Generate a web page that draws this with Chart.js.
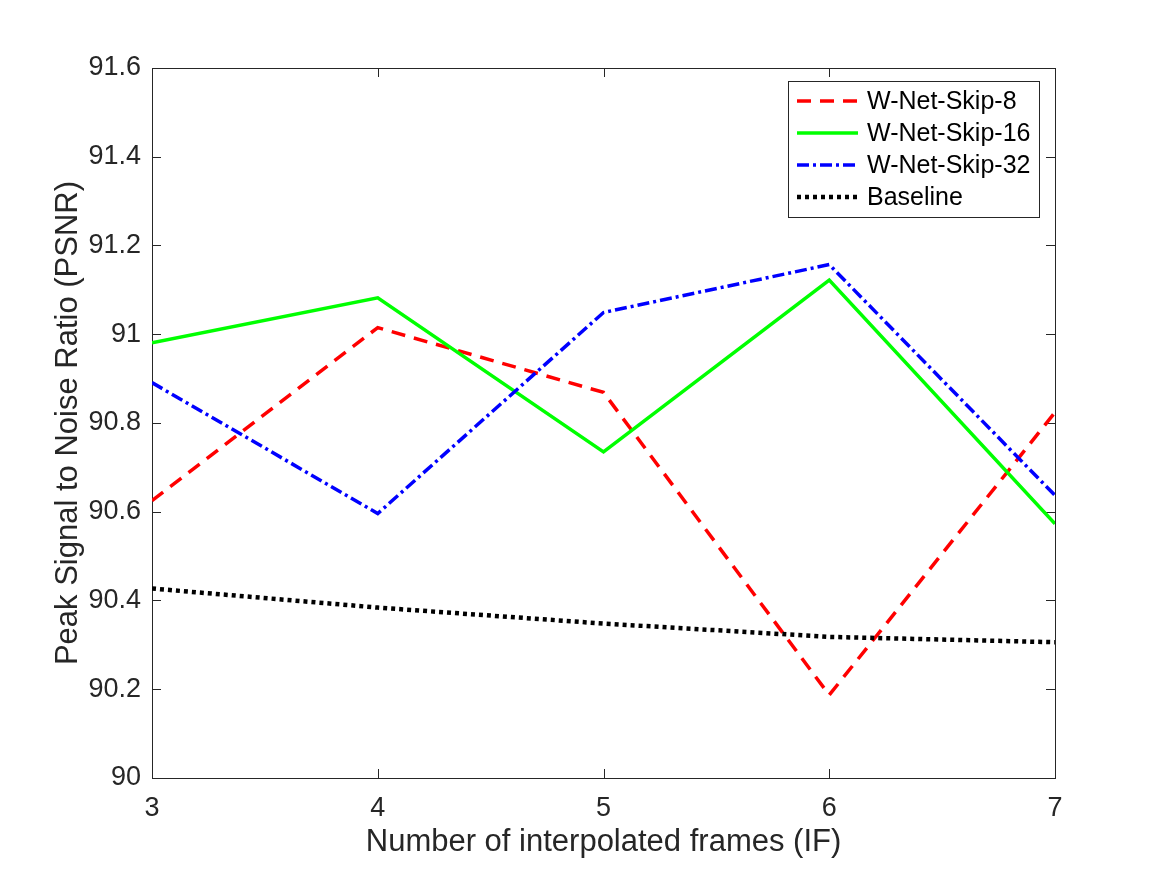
<!DOCTYPE html>
<html>
<head>
<meta charset="utf-8">
<script src="https://cdn.jsdelivr.net/npm/chart.js@4"></script>
<style>
  body { margin: 0; background: #fff; }
  #wrap { width: 1167px; height: 875px; position: relative; }
</style>
</head>
<body>
<div id="wrap"><canvas id="psnrChart"></canvas></div>
<script>
// interpolated frames (IF)
const frames = [3, 4, 5, 6, 7];
// PSNR values per network
const skip8 = [90.625, 91.015, 90.869, 90.187, 90.824];
const skip16 = [90.981, 91.082, 90.735, 91.122, 90.573];
const skip32 = [90.891, 90.596, 91.049, 91.157, 90.637];
const baseline = [90.427, 90.384, 90.348, 90.318, 90.306];
const yTicks = [90, 90.2, 90.4, 90.6, 90.8, 91, 91.2, 91.4, 91.6];

const axisColor = '#262626';
const fontFamily = '"Liberation Sans", Arial, Helvetica, sans-serif';

function toPoints(arr) {
    return frames.map((f, i) => ({ x: f, y: arr[i] }));
}

// caixa do eixo + ticks para dentro (estilo MATLAB)
const boxPlugin = {
    id: 'boxPlugin',
    beforeDatasetsDraw(chart) {
        const { ctx, chartArea: a, scales } = chart;
        const len = 9;
        ctx.save();
        ctx.strokeStyle = axisColor;
        ctx.lineWidth = 1;
        ctx.beginPath();
        frames.forEach(v => {
            const px = Math.round(scales.x.getPixelForValue(v)) + 0.5;
            ctx.moveTo(px, a.bottom); ctx.lineTo(px, a.bottom - len);
            ctx.moveTo(px, a.top); ctx.lineTo(px, a.top + len);
        });
        yTicks.forEach(v => {
            const py = Math.round(scales.y.getPixelForValue(v)) + 0.5;
            ctx.moveTo(a.left, py); ctx.lineTo(a.left + len, py);
            ctx.moveTo(a.right, py); ctx.lineTo(a.right - len, py);
        });
        ctx.stroke();
        ctx.strokeRect(Math.round(a.left) + 0.5, Math.round(a.top) + 0.5,
            Math.round(a.right - a.left), Math.round(a.bottom - a.top));
        ctx.restore();
    }
};

// legenda com caixa no canto superior direito
const legendPlugin = {
    id: 'boxLegend',
    afterDraw(chart) {
        const ctx = chart.ctx;
        const x0 = 788, y0 = 81, w = 251, h = 136;
        ctx.save();
        ctx.fillStyle = '#fff';
        ctx.fillRect(x0, y0, w, h);
        ctx.strokeStyle = axisColor;
        ctx.lineWidth = 1;
        ctx.strokeRect(x0 + 0.5, y0 + 0.5, w, h);
        ctx.font = '25px ' + fontFamily;
        ctx.textBaseline = 'middle';
        chart.data.datasets.forEach((ds, i) => {
            const cy = 101 + i * 32;
            ctx.strokeStyle = ds.borderColor;
            ctx.lineWidth = ds.borderWidth;
            ctx.setLineDash(ds.borderDash || []);
            ctx.beginPath();
            ctx.moveTo(797, cy);
            ctx.lineTo(858, cy);
            ctx.stroke();
            ctx.setLineDash([]);
            ctx.fillStyle = '#000';
            ctx.fillText(ds.label, 867, cy + 1);
        });
        ctx.restore();
    }
};

const ctx = document.getElementById('psnrChart').getContext('2d');
new Chart(ctx, {
    type: 'line',
    data: {
        datasets: [
            { label: 'W-Net-Skip-8', data: toPoints(skip8), borderColor: '#ff0000', borderWidth: 3.5, borderDash: [14, 9], order: 4 },
            { label: 'W-Net-Skip-16', data: toPoints(skip16), borderColor: '#00ff00', borderWidth: 3.5, order: 3 },
            { label: 'W-Net-Skip-32', data: toPoints(skip32), borderColor: '#0000ff', borderWidth: 3.5, borderDash: [12, 4, 3, 4], order: 2 },
            { label: 'Baseline', data: toPoints(baseline), borderColor: '#000000', borderWidth: 4.5, borderDash: [4, 4], order: 1 }
        ]
    },
    options: {
        responsive: true,
        maintainAspectRatio: false,
        animation: false,
        devicePixelRatio: 1,
        layout: { padding: { left: 46, top: 68, right: 112, bottom: 10 } },
        elements: {
            point: { radius: 0, hoverRadius: 0 },
            line: { tension: 0, fill: false, borderCapStyle: 'butt', borderJoinStyle: 'miter' }
        },
        plugins: {
            legend: { display: false },
            tooltip: { enabled: false }
        },
        scales: {
            x: {
                type: 'linear',
                min: 3,
                max: 7,
                border: { display: false },
                grid: { display: false, drawTicks: false },
                ticks: {
                    stepSize: 1,
                    padding: 14,
                    color: axisColor,
                    font: { family: fontFamily, size: 27 }
                },
                title: {
                    display: true,
                    text: 'Number of interpolated frames (IF)',
                    color: axisColor,
                    font: { family: fontFamily, size: 31 }
                },
                afterFit(scale) { scale.height = 87; }
            },
            y: {
                min: 90,
                max: 91.6,
                border: { display: false },
                grid: { display: false, drawTicks: false },
                ticks: {
                    stepSize: 0.2,
                    padding: 11,
                    color: axisColor,
                    font: { family: fontFamily, size: 27 },
                    callback: v => parseFloat(v.toFixed(1)).toString()
                },
                title: {
                    display: true,
                    text: 'Peak Signal to Noise Ratio (PSNR)',
                    color: axisColor,
                    font: { family: fontFamily, size: 31 }
                },
                afterFit(scale) { scale.width = 106; }
            }
        }
    },
    plugins: [boxPlugin, legendPlugin]
});
</script>
</body>
</html>
